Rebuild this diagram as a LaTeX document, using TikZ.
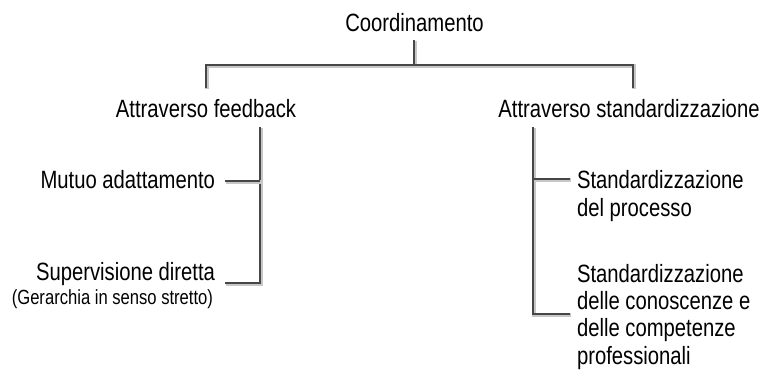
\documentclass[tikz,border=0pt]{standalone}
\usepackage{fontspec}
\setmainfont{Liberation Sans}[FakeStretch=0.81]
\begin{document}
\begin{tikzpicture}[x=1pt,y=-1pt,
  lbl/.style={inner sep=0pt, outer sep=0pt, font=\fontsize{25}{27.2}\selectfont},
  small/.style={inner sep=0pt, outer sep=0pt, font=\fontsize{20.5}{22}\selectfont},
  conn/.style={draw=black!72, line width=1.7pt,
    preaction={draw=black!22, line width=3.2pt, transform canvas={shift={(1pt,-1pt)}}}}]
\useasboundingbox (0,0) rectangle (768,378);
% texts
\node[lbl, anchor=base] (coord) at (414.5,31) {Coordinamento};
\node[lbl, anchor=base] (fb) at (206,117) {Attraverso feedback};
\node[lbl, anchor=base] (std) at (629,117) {Attraverso standardizzazione};
\node[lbl, anchor=base east] (mutuo) at (215,188) {Mutuo adattamento};
\node[lbl, anchor=base east] (sup) at (215,280) {Supervisione diretta};
\node[small, anchor=base east] (ger) at (213,304) {(Gerarchia in senso stretto)};
\node[lbl, anchor=base west, align=left] (proc) at (577,216) {Standardizzazione\\del processo};
\node[lbl, anchor=base west, align=left] (comp) at (577,364) {Standardizzazione\\delle conoscenze e\\delle competenze\\professionali};
% junction coordinates
\coordinate (c0) at (414,40);
\coordinate (c1) at (414,65);
\coordinate (fbtop) at (206,88);
\coordinate (stdtop) at (633,88);
\coordinate (lv) at (260,127);
\coordinate (lm) at (225,181);
\coordinate (lmj) at (260,181);
\coordinate (ls) at (225,283);
\coordinate (rv) at (533,127);
\coordinate (rp) at (570,179);
\coordinate (rpj) at (533,179);
\coordinate (rc) at (570,314);
% connectors
\path[conn] (c0) -- (c1);
\path[conn] (fbtop) -- (fbtop |- c1) -- (stdtop |- c1) -- (stdtop);
\path[conn] (lv) -- (lv |- ls) -- (ls);
\path[conn] (lm) -- (lmj);
\path[conn] (rv) -- (rv |- rc) -- (rc);
\path[conn] (rpj) -- (rp);
\end{tikzpicture}
\end{document}
